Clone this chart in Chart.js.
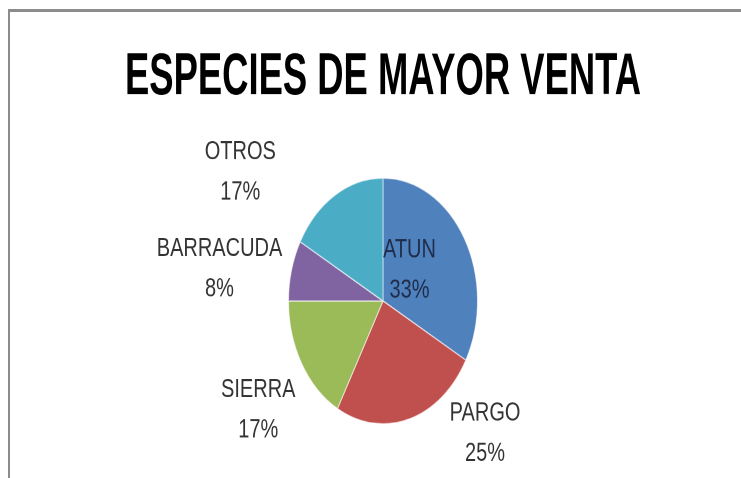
<!DOCTYPE html>
<html>
<head>
<meta charset="utf-8">
<script src="https://cdn.jsdelivr.net/npm/chart.js@4/dist/chart.umd.min.js"></script>
<style>
  html, body { margin: 0; padding: 0; background: #ffffff; }
  body { width: 741px; height: 478px; overflow: hidden; position: relative; }
  #frame { position: absolute; left: 8px; top: 9px; width: 740px; height: 480px;
           border-top: 3px solid #8c8c8c; border-left: 2px solid #8c8c8c; box-sizing: border-box; }
  #wrap { position: absolute; left: 0; top: 0; width: 741px; height: 368px;
          transform: scaleY(1.3); transform-origin: 0 0; }
</style>
</head>
<body>
<div id="frame"></div>
<div id="wrap"><canvas id="c"></canvas></div>
<script>
const title = 'ESPECIES DE MAYOR VENTA';
const categories = ['ATUN', 'PARGO', 'SIERRA', 'BARRACUDA', 'OTROS'];
const percentages = [33, 25, 17, 8, 17];
const colors = ['#4F81BD', '#C0504D', '#9BBB59', '#8064A2', '#4BACC6'];

// label block placement relative to slice centre, in units of the pie radius
const labelOffsets = [[0.28, -0.25], [1.08, 1.08], [-1.32, 0.89], [-1.73, -0.26], [-1.51, -1.05]];
const labelColors = ['#1f2d4a', '#333333', '#333333', '#333333', '#333333'];

const labelPlugin = {
  id: 'sliceLabels',
  afterDatasetsDraw(chart) {
    const ctx = chart.ctx;
    const meta = chart.getDatasetMeta(0);
    ctx.save();
    ctx.font = '20px "Liberation Sans Narrow", "Liberation Sans", sans-serif';
    ctx.textAlign = 'center';
    ctx.textBaseline = 'middle';
    meta.data.forEach((arc, i) => {
      const r = arc.outerRadius;
      const x = arc.x + labelOffsets[i][0] * r;
      const y = arc.y + labelOffsets[i][1] * r;
      ctx.fillStyle = labelColors[i];
      ctx.fillText(categories[i], x, y - 15.5);
      ctx.fillText(chart.data.datasets[0].data[i] + '%', x, y + 15.5);
    });
    ctx.restore();
  }
};

new Chart(document.getElementById('c'), {
  type: 'pie',
  data: {
    labels: categories,
    datasets: [{
      data: percentages,
      backgroundColor: colors,
      borderColor: 'rgba(255,255,255,0.6)',
      borderWidth: 1
    }]
  },
  options: {
    responsive: true,
    maintainAspectRatio: false,
    animation: false,
    devicePixelRatio: 2,
    layout: { padding: { left: 125, right: 100, top: 0, bottom: 41.5 } },
    plugins: {
      legend: { display: false },
      tooltip: { enabled: false },
      title: {
        display: true,
        text: title,
        color: '#000000',
        font: { family: '"Liberation Sans Narrow", "Liberation Sans", sans-serif', size: 45, weight: 'bold' },
        padding: { top: 33, bottom: 49.5 }
      }
    }
  },
  plugins: [labelPlugin]
});
</script>
</body>
</html>
